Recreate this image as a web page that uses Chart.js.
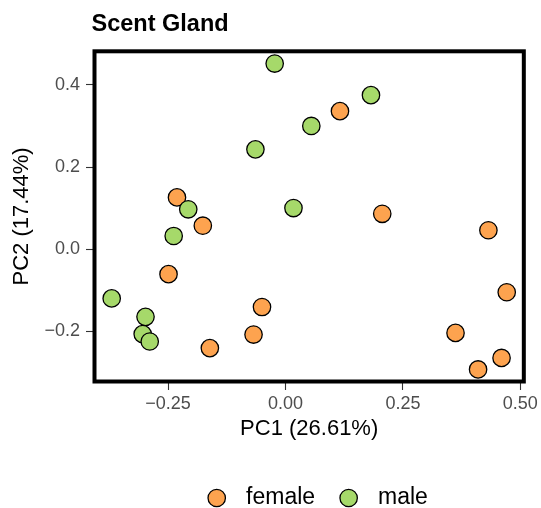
<!DOCTYPE html>
<html>
<head>
<meta charset="utf-8">
<title>Scent Gland PCA</title>
<script src="https://cdn.jsdelivr.net/npm/chart.js@4"></script>
<style>
  body { margin: 0; background: #fff; }
  canvas { display: block; }
</style>
</head>
<body>
<canvas id="pca" width="541" height="508"></canvas>
<script>
const groups = ["female", "male"];

const femaleX = [0.116, -0.231, -0.176, 0.206, 0.432, -0.249, 0.471, -0.050, -0.068, -0.161, 0.362, 0.460, 0.410];
const femaleY = [0.336, 0.126, 0.057, 0.086, 0.046, -0.061, -0.105, -0.141, -0.208, -0.241, -0.204, -0.265, -0.293];
const maleX = [-0.023, 0.182, 0.055, -0.064, 0.017, -0.207, -0.238, -0.370, -0.298, -0.304, -0.289];
const maleY = [0.452, 0.375, 0.300, 0.243, 0.100, 0.097, 0.032, -0.120, -0.165, -0.207, -0.225];

const xTicks = [-0.25, 0, 0.25, 0.5];
const yTicks = [-0.2, 0, 0.2, 0.4];
const xRange = [-0.4066, 0.5074];
const yRange = [-0.3224, 0.4818];

const FONT = "'Liberation Sans', Arial, Helvetica, sans-serif";

// ggplot-style labels with a real minus sign
const fmt = digits => v => (v < 0 ? "\u2212" : "") + Math.abs(v).toFixed(digits);

function points(xs, ys) {
  return xs.map((x, i) => ({ x: x, y: ys[i] }));
}

// panel border around the plotting area, drawn over the points
const panelBox = {
  id: "panelBox",
  afterLayout(chart) {
    chart.legend.left += 7.4;
    chart.legend.right += 7.4;
    chart.titleBlock.left -= 3;
    chart.titleBlock.right -= 3;
  },
  afterDatasetsDraw(chart) {
    const a = chart.chartArea;
    const ctx = chart.ctx;
    ctx.save();
    ctx.strokeStyle = "#000";
    ctx.lineWidth = 4;
    ctx.strokeRect(a.left, a.top, a.right - a.left, a.bottom - a.top);
    ctx.restore();
  }
};

const tickGrid = {
  display: true,
  drawOnChartArea: false,
  drawTicks: true,
  tickLength: 8.5,
  tickWidth: 1.1,
  tickColor: "#333333"
};

const chartConfig = {
  type: "scatter",
  data: {
    datasets: [
      {
        label: groups[0],
        data: points(femaleX, femaleY),
        backgroundColor: "#FDA34F",
        borderColor: "#000",
        borderWidth: 1.3,
        pointRadius: 8.7,
        pointHoverRadius: 8.7,
        order: 1
      },
      {
        label: groups[1],
        data: points(maleX, maleY),
        backgroundColor: "#A6D96A",
        borderColor: "#000",
        borderWidth: 1.3,
        pointRadius: 8.7,
        pointHoverRadius: 8.7,
        order: 0
      }
    ]
  },
  options: {
    responsive: false,
    animation: false,
    layout: { padding: { top: 0, left: 0, right: 16, bottom: 0 } },
    scales: {
      x: {
        type: "linear",
        min: xRange[0],
        max: xRange[1],
        afterBuildTicks: s => { s.ticks = xTicks.map(v => ({ value: v })); },
        afterFit: s => { s.height = 83; },
        grid: tickGrid,
        border: { display: false },
        ticks: {
          padding: 3,
          color: "#4d4d4d",
          font: { family: FONT, size: 18 },
          callback: fmt(2)
        },
        title: {
          display: true,
          text: "PC1 (26.61%)",
          color: "#000",
          font: { family: FONT, size: 22 },
          padding: { top: 0, bottom: 22 }
        }
      },
      y: {
        type: "linear",
        min: yRange[0],
        max: yRange[1],
        afterBuildTicks: s => { s.ticks = yTicks.map(v => ({ value: v })); },
        afterFit: s => { s.width = 94.5; },
        grid: tickGrid,
        border: { display: false },
        ticks: {
          padding: 6,
          color: "#4d4d4d",
          font: { family: FONT, size: 18 },
          callback: fmt(1)
        },
        title: {
          display: true,
          text: "PC2 (17.44%)",
          color: "#000",
          font: { family: FONT, size: 22 },
          padding: { top: 9, bottom: 0 }
        }
      }
    },
    plugins: {
      title: {
        display: true,
        text: "Scent Gland",
        align: "start",
        fullSize: false,
        color: "#000",
        font: { family: FONT, size: 23.5, weight: "bold" },
        padding: { top: 10, bottom: 13.1 }
      },
      legend: {
        position: "bottom",
        fullSize: false,
        maxHeight: 43.5,
        labels: {
          usePointStyle: true,
          pointStyle: "circle",
          boxWidth: 23,
          boxHeight: 12.3,
          padding: 22,
          color: "#000",
          font: { family: FONT, size: 23 },
          sort: (a, b) => a.datasetIndex - b.datasetIndex,
          generateLabels: chart =>
            Chart.defaults.plugins.legend.labels.generateLabels(chart)
              .map(l => Object.assign(l, { text: " " + l.text }))
        }
      },
      tooltip: { enabled: false }
    }
  },
  plugins: [panelBox]
};

const canvasCtx = document.getElementById("pca").getContext("2d");
window.chart = new Chart(canvasCtx, chartConfig);
</script>
</body>
</html>
